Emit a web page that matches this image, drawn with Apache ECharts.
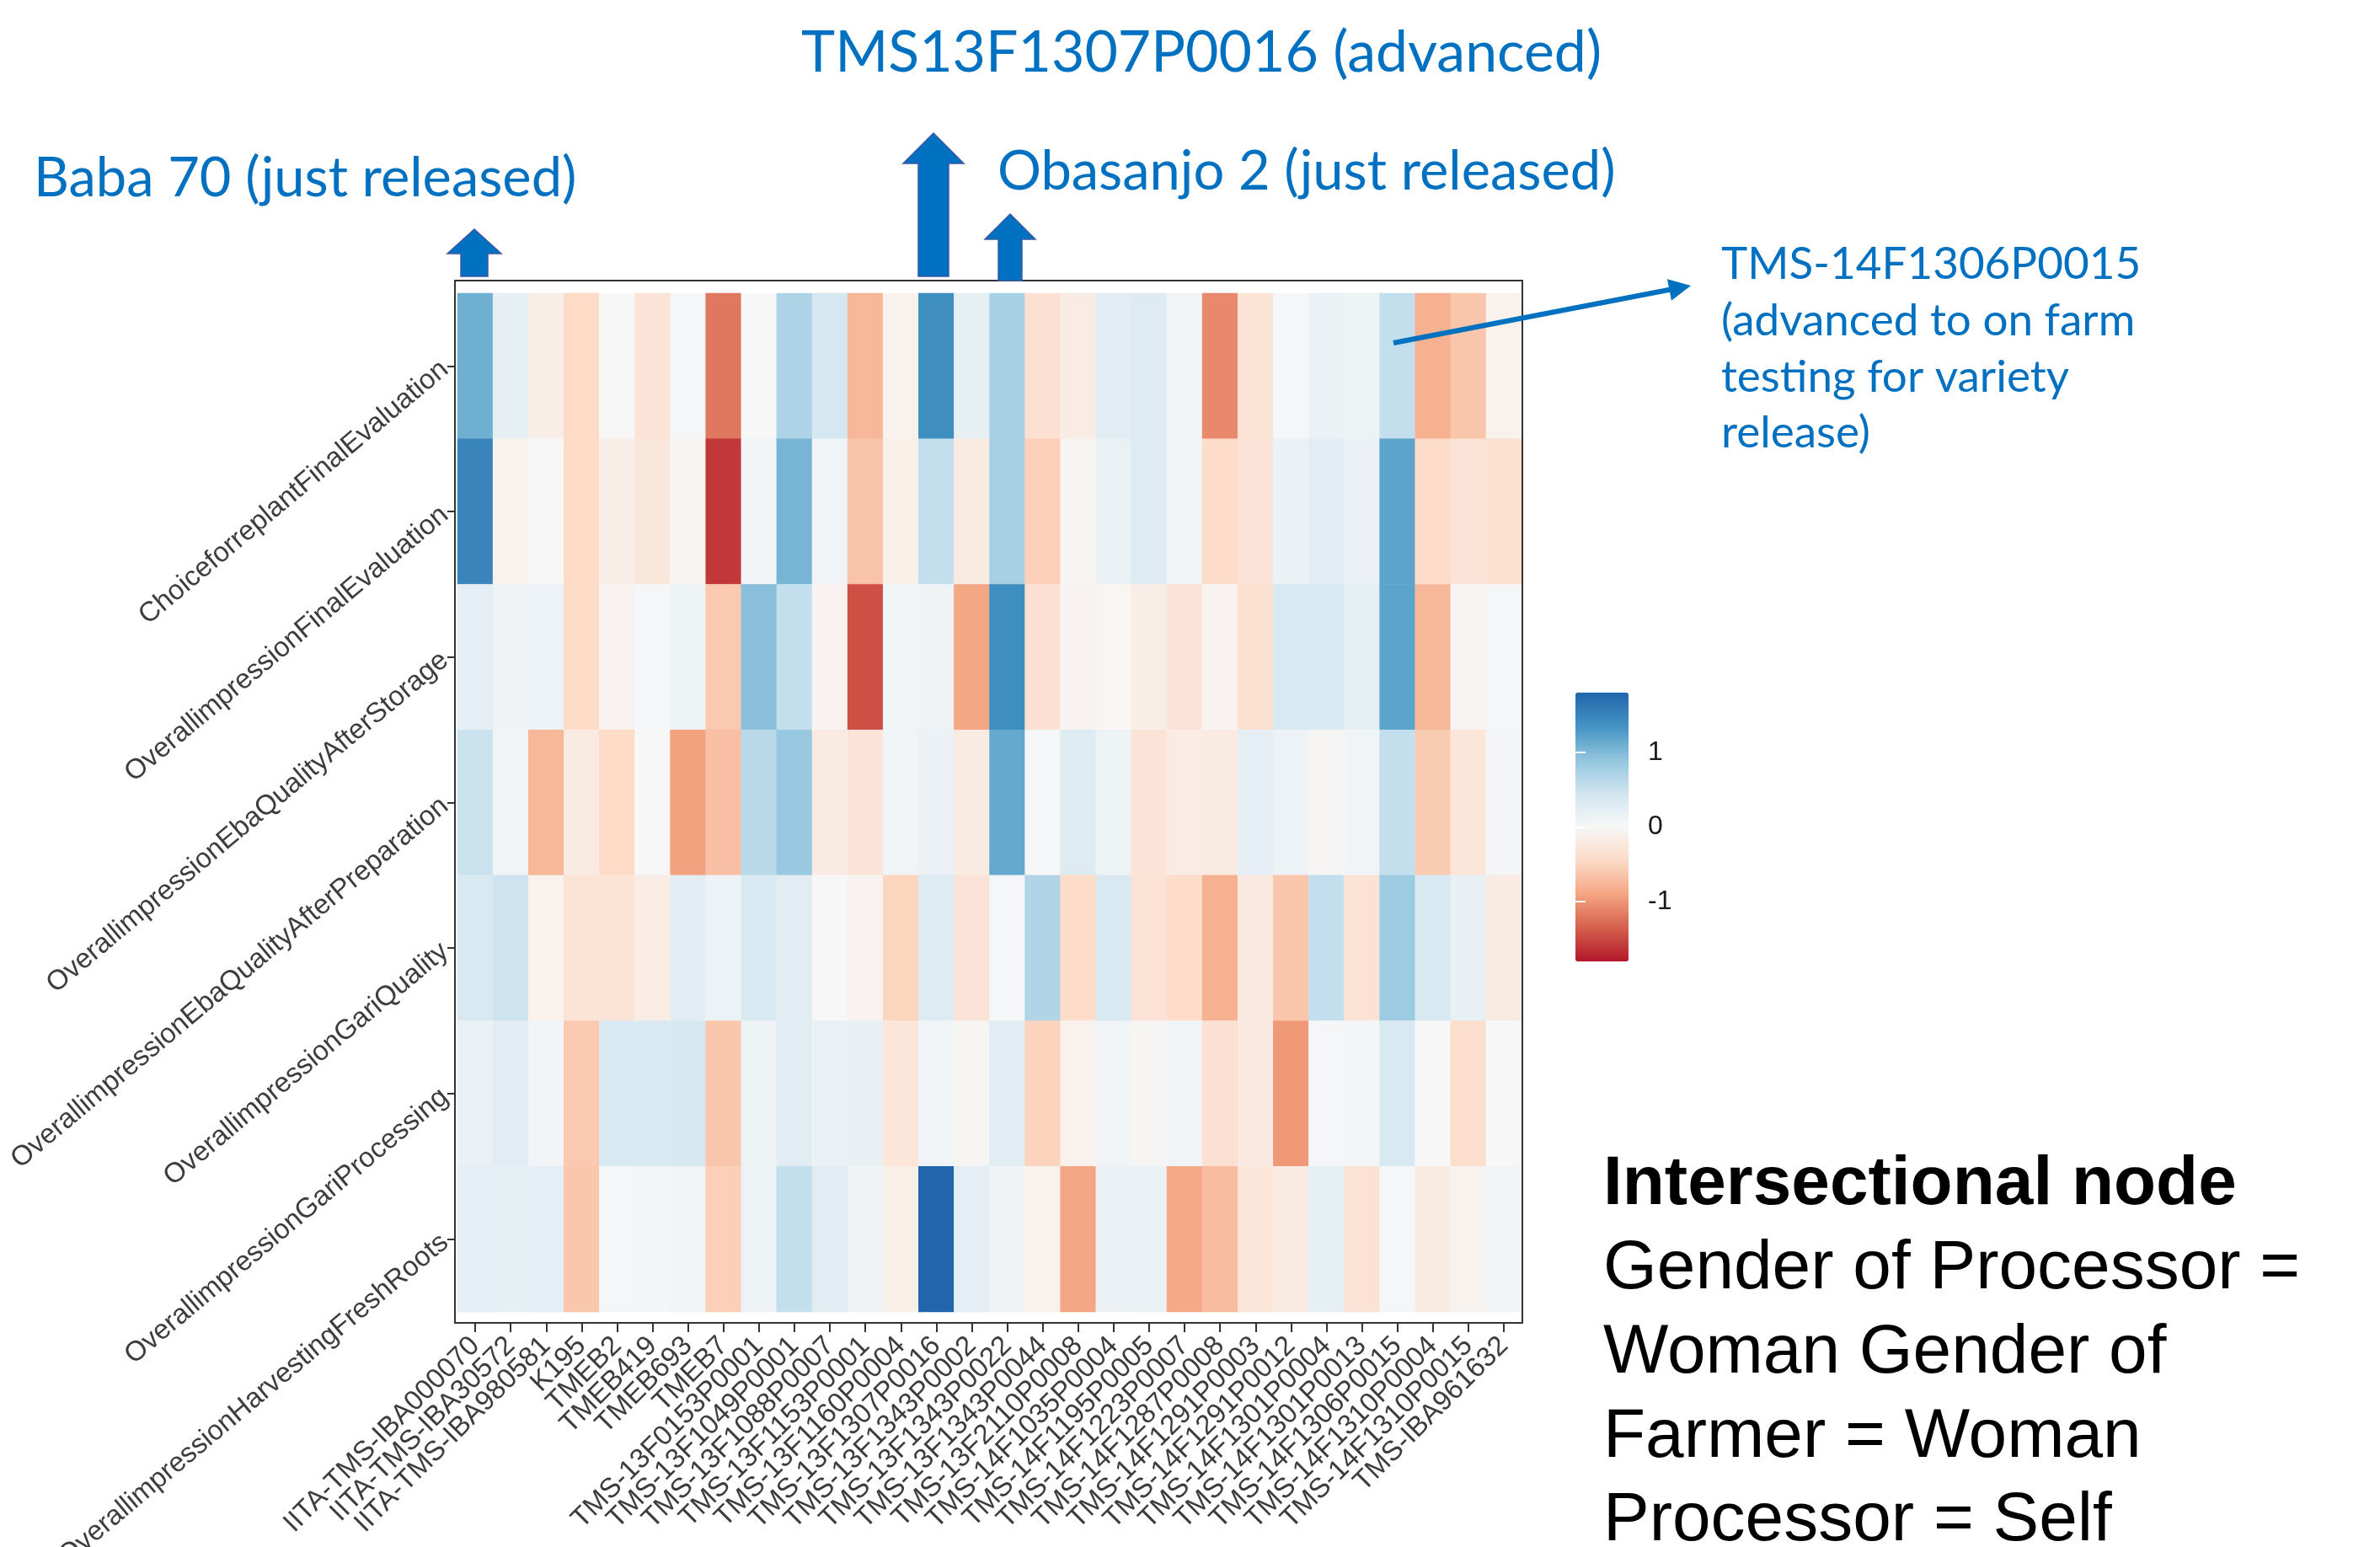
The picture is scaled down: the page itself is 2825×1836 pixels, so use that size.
<!DOCTYPE html>
<html><head><meta charset="utf-8">
<script src="https://cdn.jsdelivr.net/npm/echarts@6/dist/echarts.min.js"></script>
<style>html,body{margin:0;padding:0;background:#fff}#c{width:2825px;height:1836px}</style>
</head><body><div id="c"></div>
<script>
const traits = ['ChoiceforreplantFinalEvaluation','OverallimpressionFinalEvaluation','OverallimpressionEbaQualityAfterStorage','OverallimpressionEbaQualityAfterPreparation','OverallimpressionGariQuality','OverallimpressionGariProcessing','OverallimpressionHarvestingFreshRoots'];
const genotypes = ['IITA-TMS-IBA000070','IITA-TMS-IBA30572','IITA-TMS-IBA980581','K195','TMEB2','TMEB419','TMEB693','TMEB7','TMS-13F0153P0001','TMS-13F1049P0001','TMS-13F1088P0007','TMS-13F1153P0001','TMS-13F1160P0004','TMS-13F1307P0016','TMS-13F1343P0002','TMS-13F1343P0022','TMS-13F1343P0044','TMS-13F2110P0008','TMS-14F1035P0004','TMS-14F1195P0005','TMS-14F1223P0007','TMS-14F1287P0008','TMS-14F1291P0003','TMS-14F1291P0012','TMS-14F1301P0004','TMS-14F1301P0013','TMS-14F1306P0015','TMS-14F1310P0004','TMS-14F1310P0015','TMS-IBA961632'];
const choiceForReplantFinal = [1.1,0.2,-0.15,-0.45,0.0,-0.3,0.02,-1.2,0.0,0.7,0.4,-0.75,-0.1,1.4,0.2,0.75,-0.35,-0.17,0.25,0.3,0.07,-1.08,-0.32,0.02,0.14,0.12,0.55,-0.8,-0.63,-0.1];
const overallFinal = [1.5,-0.1,0,-0.45,-0.15,-0.25,-0.05,-1.6,0.08,1.05,0.08,-0.65,-0.12,0.55,-0.2,0.75,-0.55,-0.05,0.15,0.3,0.07,-0.43,-0.3,0.14,0.25,0.14,1.2,-0.42,-0.3,-0.37];
const ebaAfterStorage = [0.22,0.1,0.13,-0.45,-0.07,0.02,0.12,-0.6,0.95,0.55,-0.06,-1.45,0.07,0.09,-0.88,1.4,-0.35,-0.07,-0.04,-0.15,-0.3,-0.06,-0.37,0.35,0.35,0.2,1.2,-0.75,-0.05,0.03];
const ebaAfterPreparation = [0.5,0.08,-0.75,-0.2,-0.45,0,-0.92,-0.68,0.62,0.85,-0.2,-0.3,0.08,0.14,-0.2,1.15,0.03,0.3,0.12,-0.3,-0.18,-0.2,0.22,0.13,-0.03,0.08,0.55,-0.58,-0.28,0.05];
const gariQuality = [0.35,0.48,-0.1,-0.32,-0.32,-0.18,0.25,0.13,0.35,0.25,0.0,-0.07,-0.5,0.3,-0.3,0.03,0.68,-0.42,0.35,-0.33,-0.43,-0.8,-0.22,-0.62,0.55,-0.33,0.82,0.35,0.17,-0.2];
const gariProcessing = [0.15,0.25,0.08,-0.6,0.35,0.35,0.38,-0.62,0.12,0.25,0.15,0.18,-0.28,0.07,-0.03,0.25,-0.52,-0.1,0.07,-0.03,0.07,-0.35,-0.22,-0.98,0.03,0.04,0.35,0,-0.4,0];
const harvestingFreshRoots = [0.22,0.2,0.22,-0.62,0.02,0.04,0.08,-0.55,0.12,0.55,0.25,0.1,-0.13,1.8,0.22,0.1,-0.1,-0.88,0.14,0.15,-0.87,-0.7,-0.28,-0.2,0.2,-0.33,0.03,-0.2,-0.08,0.07];
const legendTicks = [-1, 0, 1];
const colorMin = -1.8, colorMax = 1.8;

const rows = [choiceForReplantFinal, overallFinal, ebaAfterStorage, ebaAfterPreparation, gariQuality, gariProcessing, harvestingFreshRoots];
const cells = [];
rows.forEach((r, yi) => r.forEach((v, xi) => cells.push([xi, yi, v])));

const FONT = '"Liberation Sans", Arial, sans-serif';
const BLUE = '#0070c0';

function upArrow(cx, tipY, baseY, bottomY, sh, hh) {
  return {type:'polygon', z:50, shape:{points:[[cx-sh,bottomY],[cx-sh,baseY],[cx-hh,baseY],[cx,tipY],[cx+hh,baseY],[cx+sh,baseY],[cx+sh,bottomY]]},
    style:{fill:BLUE, stroke:'#3b5ba5', lineWidth:1.5}};
}
function lineArrow(x0, y0, x1, y1, hl, hw) {
  const dx = x1-x0, dy = y1-y0, L = Math.hypot(dx, dy), ux = dx/L, uy = dy/L, nx = -uy, ny = ux;
  const bx = x1-ux*hl, by = y1-uy*hl;
  return [
    {type:'line', z:50, shape:{x1:x0, y1:y0, x2:bx+ux*2, y2:by+uy*2}, style:{stroke:BLUE, lineWidth:6}},
    {type:'polygon', z:50, shape:{points:[[x1,y1],[bx+nx*hw,by+ny*hw],[bx-nx*hw,by-ny*hw]]}, style:{fill:BLUE}}
  ];
}
function txt(s, x, y, size, opts) {
  return {type:'text', z:60, style:Object.assign({text:s, x:x, y:y, fill:BLUE, font:size+'px Lato, "Open Sans", sans-serif', align:'left', verticalAlign:'middle'}, opts||{})};
}
const BK = '82px "Liberation Sans", Arial, sans-serif';

const graphics = [
  {type:'rect', z:40, shape:{x:540, y:333, width:1267, height:1237}, style:{fill:'none', stroke:'#333', lineWidth:2}},
  upArrow(563, 272, 301, 328, 16, 32),
  upArrow(1108, 158, 194, 328, 18, 36),
  upArrow(1199, 254, 284, 333, 14, 30),
  ...lineArrow(1654, 407, 2007, 339, 26, 13),
  txt('TMS13F1307P0016 (advanced)', 951, 63, 68),
  txt('Baba 70 (just released)', 40, 212, 65),
  txt('Obasanjo 2 (just released)', 1184, 204, 65),
  txt('TMS-14F1306P0015', 2043, 314, 53),
  txt('(advanced to on farm', 2043, 381, 53),
  txt('testing for variety', 2043, 448, 53),
  txt('release)', 2043, 514, 53),
  txt('Intersectional node', 1903, 1406, 82, {fill:'#000', font:'bold ' + BK}),
  txt('Gender of Processor =', 1903, 1506, 82, {fill:'#000', font:BK}),
  txt('Woman Gender of', 1903, 1606, 82, {fill:'#000', font:BK}),
  txt('Farmer = Woman', 1903, 1706, 82, {fill:'#000', font:BK}),
  txt('Processor = Self', 1903, 1805, 82, {fill:'#000', font:BK})
];

const chart = echarts.init(document.getElementById('c'), null, {renderer:'canvas'});
chart.setOption({
  animation:false,
  backgroundColor:'#fff',
  grid:[
    {left:543, top:348, width:1263, height:1209, show:false, containLabel:false, outerBoundsMode:'none'},
    {left:1870, top:822, width:63, height:319, show:false, containLabel:false, outerBoundsMode:'none'}
  ],
  xAxis:[
    {type:'category', gridIndex:0, data:genotypes, offset:13,
     axisLine:{show:false}, splitLine:{show:false},
     axisTick:{show:true, alignWithLabel:true, length:11, lineStyle:{color:'#333', width:2}},
     axisLabel:{interval:0, rotate:45, fontSize:33, color:'#3d3d3d', fontFamily:FONT, margin:22, hideOverlap:false}},
    {type:'value', gridIndex:1, show:false, min:0, max:1}
  ],
  yAxis:[
    {type:'category', gridIndex:0, data:traits, inverse:true, offset:3,
     axisLine:{show:false}, splitLine:{show:false},
     axisTick:{show:true, alignWithLabel:true, length:9, lineStyle:{color:'#333', width:2}},
     axisLabel:{interval:0, rotate:40, fontSize:33, color:'#3d3d3d', fontFamily:FONT, margin:12, hideOverlap:false}},
    {type:'value', gridIndex:1, min:colorMin, max:colorMax, position:'right', z:10,
     axisLine:{show:false}, splitLine:{show:false},
     axisTick:{show:true, inside:true, length:12, lineStyle:{color:'#fff', width:2}, customValues:legendTicks},
     axisLabel:{show:true, customValues:legendTicks, margin:23, fontSize:32, color:'#1a1a1a', fontFamily:FONT}},
    {type:'value', gridIndex:1, min:colorMin, max:colorMax, position:'left', z:10,
     axisLine:{show:false}, splitLine:{show:false},
     axisTick:{show:true, inside:true, length:12, lineStyle:{color:'#fff', width:2}, customValues:legendTicks},
     axisLabel:{show:false}}
  ],
  visualMap:{type:'continuous', seriesIndex:0, min:colorMin, max:colorMax, calculable:false,
    left:1870, top:822, itemWidth:63, itemHeight:319, padding:0, z:4,
    inRange:{color:['#b2182b','#d6604d','#f4a582','#fddbc7','#f7f7f7','#d1e5f0','#92c5de','#4393c3','#2166ac']}},
  series:[{type:'heatmap', xAxisIndex:0, yAxisIndex:0, data:cells, itemStyle:{borderWidth:0}, emphasis:{disabled:true}, progressive:0}],
  graphic:graphics
});
</script></body></html>
